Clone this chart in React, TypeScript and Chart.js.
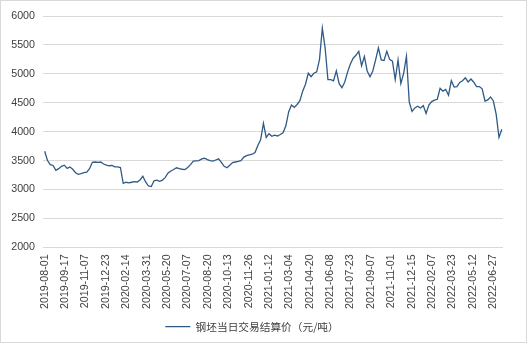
import React, { useEffect, useRef } from 'react';
import { Chart, registerables } from 'chart.js';

Chart.register(...registerables);

const seriesName = '钢坯当日交易结算价（元/吨）';

const tickLabels = [
  '2019-08-01', '2019-09-17', '2019-11-07', '2019-12-23', '2020-02-14', '2020-03-31',
  '2020-05-20', '2020-07-07', '2020-08-20', '2020-10-13', '2020-11-26', '2021-01-12',
  '2021-03-04', '2021-04-20', '2021-06-08', '2021-07-23', '2021-09-07', '2021-11-01',
  '2021-12-15', '2022-02-07', '2022-03-23', '2022-05-12', '2022-06-27',
];

// price samples per labelled date interval
const pointsPerTick = 7.27;

const prices = [
  3660, 3500, 3430, 3415, 3330, 3360, 3400, 3420, 3365, 3390,
  3350, 3290, 3262, 3275, 3290, 3300, 3360, 3470, 3475, 3470,
  3475, 3440, 3420, 3410, 3415, 3390, 3390, 3380, 3105, 3125,
  3115, 3125, 3135, 3130, 3165, 3230, 3130, 3060, 3050, 3150,
  3160, 3140, 3160, 3210, 3285, 3320, 3345, 3375, 3360, 3350,
  3345, 3380, 3430, 3490, 3495, 3500, 3530, 3540, 3515, 3500,
  3490, 3510, 3530, 3470, 3400, 3375, 3420, 3465, 3475, 3485,
  3500, 3560, 3585, 3600, 3610, 3640, 3760, 3860, 4145, 3900,
  3965, 3920, 3940, 3925, 3950, 3980, 4100, 4340, 4460, 4420,
  4470, 4535, 4700, 4820, 5010, 4950, 5010, 5035, 5250, 5790,
  5450, 4900, 4900, 4880, 5050, 4830, 4760, 4860, 5030, 5170,
  5270, 5320, 5390, 5140, 5300, 5050, 4950, 5050, 5240, 5450,
  5240, 5230, 5390, 5250, 5220, 4900, 5240, 4830, 5010, 5305,
  4510, 4350, 4410, 4440, 4410, 4450, 4315, 4460, 4520, 4545,
  4560, 4750, 4700, 4730, 4630, 4880, 4770, 4780, 4850, 4880,
  4930, 4860, 4910, 4855, 4780, 4780, 4740, 4530, 4550, 4600,
  4530, 4300, 3900, 4040,
];

const yMin = 2000;
const yMax = 6000;
const yStep = 500;

const lineColor = '#2F5A87';
const textColor = '#404040';
const gridColor = '#D9D9D9';
const fontFamily = '"Liberation Sans", Arial, "Noto Sans CJK SC", sans-serif';

export default function App() {
  const ref = useRef<HTMLCanvasElement>(null);

  useEffect(() => {
    document.body.style.margin = '0';
    const font = { family: fontFamily, size: 10.7 };
    const chart = new Chart(ref.current!, {
      type: 'line',
      data: {
        datasets: [
          {
            label: seriesName,
            data: prices.map((v, i) => ({ x: i / pointsPerTick, y: v })),
            borderColor: lineColor,
            backgroundColor: lineColor,
            borderWidth: 1.3,
            pointRadius: 0,
            tension: 0,
            fill: false,
          },
        ],
      },
      options: {
        animation: false,
        responsive: false,
        maintainAspectRatio: false,
        layout: { padding: { top: 15, right: 23, left: 0, bottom: 0 } },
        plugins: {
          legend: {
            position: 'bottom',
            labels: {
              usePointStyle: true,
              pointStyle: 'line',
              pointStyleWidth: 25,
              padding: 6,
              color: textColor,
              font: { family: '"Noto Sans CJK SC", sans-serif', size: 10.7 },
            },
          },
          tooltip: { enabled: false },
        },
        scales: {
          x: {
            type: 'linear',
            min: -0.083,
            max: 22.48,
            grid: { display: false, drawTicks: false },
            border: { display: false },
            afterBuildTicks: (s: any) => {
              s.ticks = tickLabels.map((_, i) => ({ value: i }));
            },
            afterFit: (s: any) => {
              s.height = 68;
            },
            ticks: {
              autoSkip: false,
              minRotation: 90,
              maxRotation: 90,
              padding: 7,
              color: textColor,
              font,
              callback: (v: any) => tickLabels[Math.round(Number(v))] ?? '',
            },
          },
          y: {
            min: yMin,
            max: yMax,
            grid: { color: gridColor, drawTicks: false },
            border: { display: false },
            afterFit: (s: any) => {
              s.width = 42;
            },
            ticks: {
              stepSize: yStep,
              padding: 8,
              color: textColor,
              font,
              callback: (v: any) => String(v),
            },
          },
        },
      },
    } as any);
    return () => chart.destroy();
  }, []);

  return (
    <div
      style={{
        position: 'absolute',
        left: 0,
        top: 0,
        width: 527,
        height: 343,
        border: `1px solid ${gridColor}`,
        boxSizing: 'border-box',
        background: '#fff',
      }}
    >
      <canvas ref={ref} width={525} height={341} style={{ display: 'block' }} />
    </div>
  );
}
